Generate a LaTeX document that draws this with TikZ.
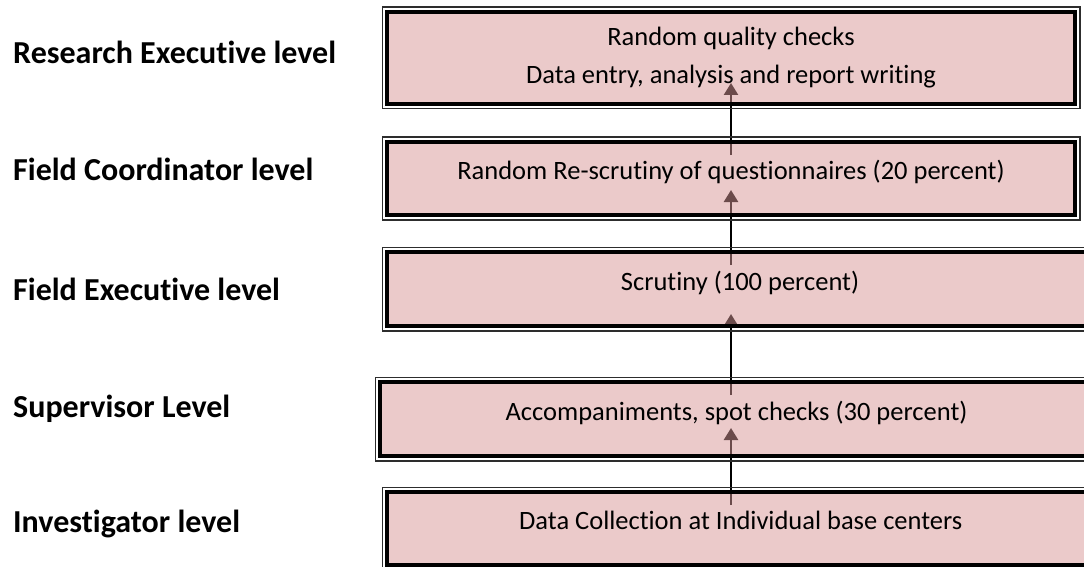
\documentclass[tikz,border=0pt]{standalone}
\usepackage{fontspec}
\setmainfont{Carlito}[Ligatures={NoCommon,NoContextual},Contextuals=NoAlternate]
\usetikzlibrary{arrows.meta,backgrounds,calc}
\definecolor{boxpink}{RGB}{215,150,150}
\definecolor{rimgray}{RGB}{45,45,45}
\tikzset{
  levelbox/.style={draw=black, line width=3.5pt, fill=boxpink, fill opacity=0.5,
    text opacity=1, inner sep=0pt, outer sep=0pt, align=center,
    font=\fontsize{26.5}{38}\selectfont},
  onebox/.style={levelbox, text height=18pt, text depth=15.5pt},
  levellabel/.style={anchor=base west, inner sep=0pt,
    font=\fontsize{32}{36}\selectfont\bfseries},
  rim/.style={draw=rimgray, line width=1.8pt},
  flow/.style={line width=2.5pt, -{Triangle[width=14pt,length=12pt]}}
}
\begin{document}
\begin{tikzpicture}[x=1pt,y=-1pt]
  \useasboundingbox (0,0) rectangle (1084,567);
  \coordinate (axis) at (731,0);
  % level names
  \node[levellabel] (lres) at (13,64) {Research Executive level};
  \node[levellabel] (lcoord) at (13,180) {Field Coordinator level};
  \node[levellabel] (lfexec) at (13,300) {Field Executive level};
  \node[levellabel] (lsup) at (13,417) {Supervisor Level};
  \node[levellabel] (linv) at (13,532) {Investigator level};
  % checks at each level
  \node[levelbox, minimum width=688pt, minimum height=92pt] (res) at (731,58)
    {Random quality checks\\Data entry, analysis and report writing};
  \node[onebox, minimum width=688pt, minimum height=73pt] (coord) at (731,178.5)
    {Random Re-scrutiny of questionnaires (20 percent)};
  \node[onebox, minimum width=706pt, minimum height=74pt] (fexec) at (740,289)
    {Scrutiny (100 percent)};
  \node[onebox, minimum width=713pt, minimum height=74pt] (sup) at (736.5,419)
    {Accompaniments, spot checks (30 percent)};
  \node[onebox, minimum width=707.6pt, minimum height=73pt] (inv) at (740.8,528.5)
    {Data Collection at Individual base centers};
  % outer rim of the double border
  \foreach \n in {res,coord,fexec,sup,inv}
    \draw[rim] ([shift={(-4.6,-4.6)}]\n.north west) rectangle ([shift={(4.6,4.6)}]\n.south east);
  % arrows under the boxes
  \begin{scope}[on background layer]
    \draw[flow] ($(inv.north -| axis)+(0,13)$) -- ($(sup.north -| axis)+(0,46)$);
    \draw[flow] ($(sup.north -| axis)+(0,13)$) -- ($(fexec.north -| axis)+(0,62)$);
    \draw[flow] ($(fexec.north -| axis)+(0,13)$) -- ($(coord.north -| axis)+(0,48)$);
    \draw[flow] ($(coord.north -| axis)+(0,13)$) -- ($(res.north -| axis)+(0,71)$);
  \end{scope}
\end{tikzpicture}
\end{document}
